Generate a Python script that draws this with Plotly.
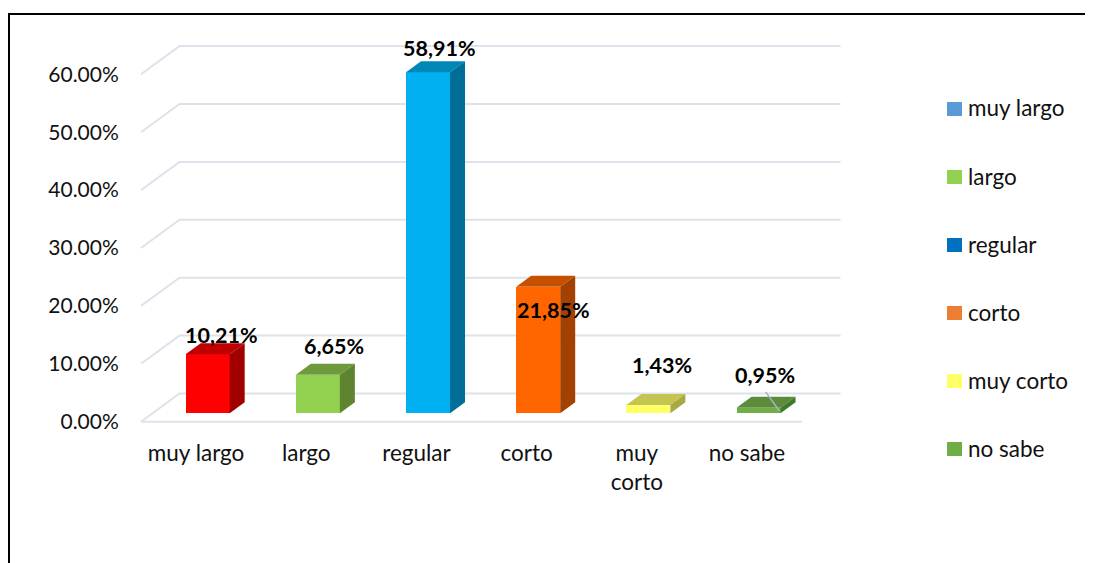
import plotly.graph_objects as go

categories = ['muy largo', 'largo', 'regular', 'corto', 'muy corto', 'no sabe']
tick_labels = ['muy largo', 'largo', 'regular', 'corto', 'muy<br>corto', 'no sabe']
values = [10.21, 6.65, 58.91, 21.85, 1.43, 0.95]
value_labels = ['10,21%', '6,65%', '58,91%', '21,85%', '1,43%', '0,95%']
y_ticks = [0, 10, 20, 30, 40, 50, 60]

front_colors = ['#FF0000', '#92D050', '#00B0F0', '#FF6600', '#FFFF66', '#70AD47']
top_colors = ['#C00000', '#6F9A3C', '#0087B8', '#C45000', '#C4C450', '#5C8C3A']
side_colors = ['#A00000', '#5F8430', '#006E96', '#A34200', '#A8A845', '#3F7A2A']
legend_colors = ['#5B9BD5', '#92D050', '#0070C0', '#ED7D31', '#FFFF66', '#70AD47']

FONT = 'Lato'
GRID = '#DEE2EA'

# page body adds 8px around the figure
BODY = 8
FIG_W, FIG_H = 1093 - BODY, 563 - BODY

# pixel scale of the plot area (page pixels)
PLOT_L, PLOT_R, PLOT_T, PLOT_B = 138, 843, 42, 425
ZERO_X, ZERO_Y = 141, 421.7
PX_X = 110.17
PX_Y = 5.79
x_range = [-0.5 - (ZERO_X - PLOT_L) / PX_X, -0.5 + (PLOT_R - ZERO_X) / PX_X]
y_range = [-(PLOT_B - ZERO_Y) / PX_Y, (ZERO_Y - PLOT_T) / PX_Y]

# 3d look, in axis units
WALL_DX = 38.5 / PX_X
WALL_DY = 28.2 / PX_Y
BAR_SHIFT = 11.6 / PX_X
BAR_BASE = 8.4 / PX_Y
BAR_W = 44 / PX_X
BAR_DX = 15 / PX_X
BAR_DY = 11 / PX_Y


def paper_x(px):
    return (px - PLOT_L) / (PLOT_R - PLOT_L)


def paper_y(px):
    return (PLOT_B - px) / (PLOT_B - PLOT_T)


fig = go.Figure()

# front faces
fig.add_trace(go.Bar(
    x=[i + BAR_SHIFT for i in range(len(values))],
    y=values,
    base=BAR_BASE,
    width=BAR_W,
    marker=dict(color=front_colors, line=dict(width=0)),
    showlegend=False,
    hoverinfo='skip'
))

# top and side faces
for i, v in enumerate(values):
    x0 = i + BAR_SHIFT - BAR_W / 2
    x1 = i + BAR_SHIFT + BAR_W / 2
    y0 = BAR_BASE
    y1 = BAR_BASE + v
    fig.add_trace(go.Scatter(
        x=[x0, x1, x1 + BAR_DX, x0 + BAR_DX, x0],
        y=[y1, y1, y1 + BAR_DY, y1 + BAR_DY, y1],
        mode='lines', fill='toself', fillcolor=top_colors[i],
        line=dict(width=0), showlegend=False, hoverinfo='skip'
    ))
    fig.add_trace(go.Scatter(
        x=[x1, x1 + BAR_DX, x1 + BAR_DX, x1, x1],
        y=[y0, y0 + BAR_DY, y1 + BAR_DY, y1, y0],
        mode='lines', fill='toself', fillcolor=side_colors[i],
        line=dict(width=0), showlegend=False, hoverinfo='skip'
    ))

# walls and floor
shapes = []
for t in y_ticks:
    shapes.append(dict(
        type='path', layer='below', line=dict(color=GRID, width=2),
        path=f'M -0.5 {t} L {-0.5 + WALL_DX} {t + WALL_DY} L {5.5 + WALL_DX} {t + WALL_DY}'
    ))
shapes.append(dict(
    type='line', layer='below', line=dict(color=GRID, width=2),
    x0=-0.5, x1=5.5, y0=0, y1=0
))
# leader line of the last label
last = len(values) - 1
shapes.append(dict(
    type='line', line=dict(color='#A6B4C8', width=1.5),
    x0=last + BAR_SHIFT + BAR_W / 2 - 0.01, y0=BAR_BASE + 0.4,
    x1=last + BAR_SHIFT + BAR_W / 2 - 0.135, y1=BAR_BASE + 3.7
))
# outer frame, open at the bottom
shapes.append(dict(
    type='path', xref='paper', yref='paper', line=dict(color='black', width=2),
    path=(f'M {paper_x(9)} {paper_y(563)} L {paper_x(9)} {paper_y(14)} '
          f'L {paper_x(1093)} {paper_y(14)}')
))

# data labels, pixel nudges
label_dx = [14, 16, 11, 15, 14, 6]
label_dy = [8, 18, 13, -34, 29, 22]
annotations = []
for i, v in enumerate(values):
    annotations.append(dict(
        x=i + BAR_SHIFT, y=BAR_BASE + v + BAR_DY,
        text=f'<b>{value_labels[i]}</b>', showarrow=False,
        xshift=label_dx[i], yshift=label_dy[i], yanchor='middle',
        font=dict(family=FONT, size=21.5, color='black')
    ))

# legend column, spaced wider than a plotly legend can go
LEGEND_TOP, LEGEND_STEP = 109, 68
for i, (name, color) in enumerate(zip(categories, legend_colors)):
    row = LEGEND_TOP + i * LEGEND_STEP
    shapes.append(dict(
        type='rect', xref='paper', yref='paper', fillcolor=color, line=dict(width=0),
        x0=paper_x(947), x1=paper_x(962), y0=paper_y(row + 7), y1=paper_y(row - 7)
    ))
    annotations.append(dict(
        x=paper_x(965.5), y=paper_y(row - 1), xref='paper', yref='paper',
        xanchor='left', yanchor='middle', text=name, showarrow=False,
        font=dict(family=FONT, size=22.5, color='#111111')
    ))

fig.update_layout(
    width=FIG_W,
    height=FIG_H,
    margin=dict(l=PLOT_L - BODY, r=1093 - PLOT_R, t=PLOT_T - BODY, b=563 - PLOT_B, autoexpand=False),
    plot_bgcolor='rgba(0,0,0,0)',
    paper_bgcolor='white',
    font=dict(family=FONT, size=22.5, color='#111111'),
    shapes=shapes,
    annotations=annotations,
    showlegend=False,
    bargap=0,
    xaxis=dict(
        range=x_range, tickmode='array', tickvals=list(range(len(values))),
        ticktext=tick_labels, showgrid=False, zeroline=False, showline=False,
        ticks='outside', ticklen=8, tickcolor='rgba(0,0,0,0)'
    ),
    yaxis=dict(
        range=y_range, tickmode='array', tickvals=y_ticks,
        ticktext=[f'{t:.2f}%' for t in y_ticks], showgrid=False, zeroline=False,
        showline=False, ticks='outside', ticklen=14, tickcolor='rgba(0,0,0,0)',
        tickfont=dict(family=FONT, size=21)
    )
)

fig.write_html("out.html")
